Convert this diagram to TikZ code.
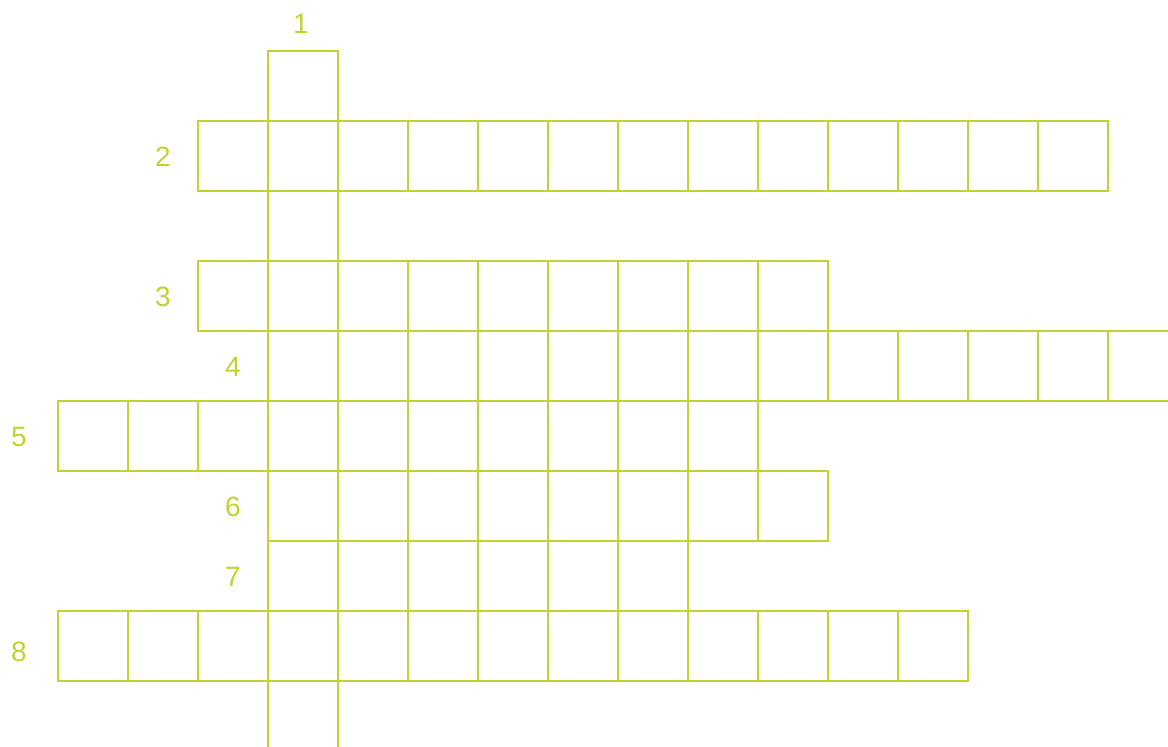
\documentclass[tikz,border=0pt]{standalone}
\usepackage{fontspec}
\setmainfont{Liberation Sans}
\definecolor{cw}{RGB}{194,210,48}
\begin{document}
\begin{tikzpicture}[x=1pt,y=-1pt,
  cellline/.style={draw=cw,line width=1.5pt},
  num/.style={text=cw,font=\fontsize{28}{30}\selectfont,inner sep=0pt,anchor=center}]
\useasboundingbox (0,0) rectangle (1168,747);
\begin{scope}
\clip (0,0) rectangle (1168,747);
% across words: start x, top y, number of cells
\foreach \sx/\sy/\n in {198/121/13, 198/261/9, 268/331/14, 58/401/10, 268/471/8, 268/541/6, 58/611/13}{
  \foreach \i in {1,...,\n}{
    \draw[cellline] ({\sx+70*(\i-1)},\sy) rectangle +(70,70);
  }
}
% down word 1
\foreach \i in {1,...,10}{
  \draw[cellline] (268,{51+70*(\i-1)}) rectangle +(70,70);
}
\end{scope}
\node[num] (n1) at (301,24) {1};
\node[num] (n2) at (163,157) {2};
\node[num] (n3) at (163,297) {3};
\node[num] (n4) at (233,367) {4};
\node[num] (n5) at (19,437) {5};
\node[num] (n6) at (233,507) {6};
\node[num] (n7) at (233,577) {7};
\node[num] (n8) at (19,652) {8};
\end{tikzpicture}
\end{document}
